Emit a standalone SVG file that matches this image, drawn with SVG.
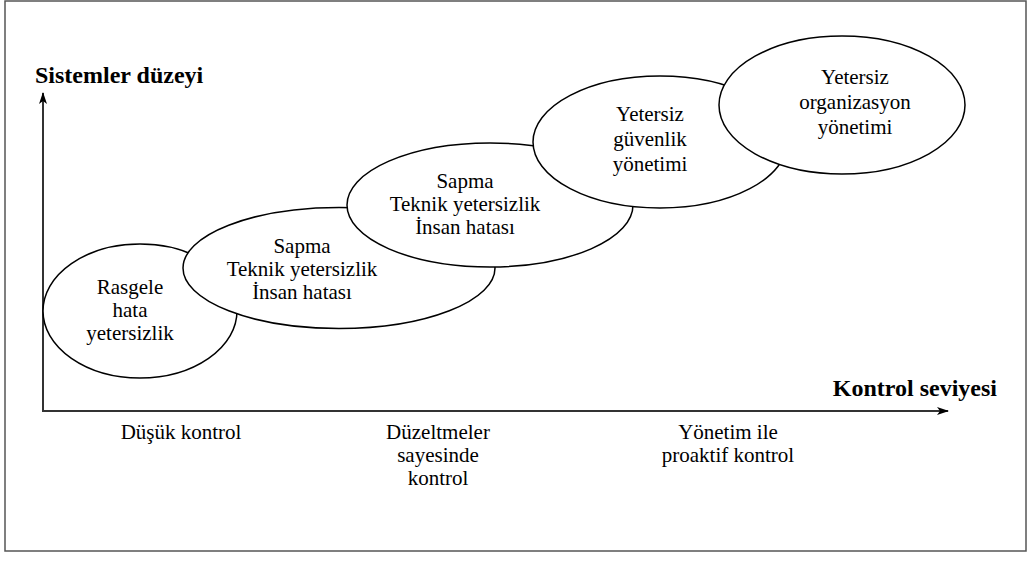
<svg xmlns="http://www.w3.org/2000/svg" width="1032" height="565" viewBox="0 0 1032 565">
  <style>
    .frame { fill: #ffffff; stroke: #555555; stroke-width: 1.5; }
    .blob { fill: #ffffff; stroke: #000000; stroke-width: 1.5; }
    .axis { fill: none; stroke: #333333; stroke-width: 2; }
    text { font-family: 'Liberation Serif', 'DejaVu Serif', 'Noto Serif', serif; fill: #000000; }
    .lbl { font-size: 21px; text-anchor: middle; }
    .tick { font-size: 21px; text-anchor: middle; }
    .title { font-size: 24px; font-weight: bold; }
  </style>
  <defs>
    <marker id="arrow" markerWidth="12" markerHeight="8" refX="11" refY="4" orient="auto" markerUnits="userSpaceOnUse">
      <path d="M0,0 L12,4 L0,8 L3,4 Z" fill="#000000"/>
    </marker>
  </defs>

  <rect class="frame" x="5" y="1" width="1021" height="550"/>

  <!-- axes -->
  <g id="connectors">
    <line class="axis" x1="43" y1="411" x2="43" y2="93" marker-end="url(#arrow)"/>
    <line class="axis" x1="42" y1="411" x2="948" y2="411" marker-end="url(#arrow)"/>
  </g>

  <text class="title" x="35" y="83">Sistemler düzeyi</text>
  <text class="title" x="997" y="396" text-anchor="end">Kontrol seviyesi</text>

  <!-- stages, later ones drawn over earlier ones -->
  <g id="stage1">
    <ellipse class="blob" cx="140" cy="311" rx="97" ry="67"/>
    <text class="lbl" x="130" y="294">Rasgele</text>
    <text class="lbl" x="130" y="317">hata</text>
    <text class="lbl" x="130" y="340">yetersizlik</text>
  </g>
  <g id="stage2">
    <ellipse class="blob" cx="339" cy="268" rx="156" ry="60.5"/>
    <text class="lbl" x="302" y="253">Sapma</text>
    <text class="lbl" x="302" y="276">Teknik yetersizlik</text>
    <text class="lbl" x="302" y="299">İnsan hatası</text>
  </g>
  <g id="stage3">
    <ellipse class="blob" cx="490" cy="205" rx="143" ry="62"/>
    <text class="lbl" x="465" y="188">Sapma</text>
    <text class="lbl" x="465" y="211">Teknik yetersizlik</text>
    <text class="lbl" x="465" y="234">İnsan hatası</text>
  </g>
  <g id="stage4">
    <ellipse class="blob" cx="660" cy="142" rx="127" ry="66"/>
    <text class="lbl" x="650" y="121">Yetersiz</text>
    <text class="lbl" x="650" y="146">güvenlik</text>
    <text class="lbl" x="650" y="171">yönetimi</text>
  </g>
  <g id="stage5">
    <ellipse class="blob" cx="842" cy="105" rx="123" ry="69"/>
    <text class="lbl" x="855" y="84">Yetersiz</text>
    <text class="lbl" x="855" y="109">organizasyon</text>
    <text class="lbl" x="855" y="134">yönetimi</text>
  </g>

  <!-- control levels along the horizontal axis -->
  <g id="levels">
    <text class="tick" x="181" y="439">Düşük kontrol</text>
    <text class="tick" x="438" y="439">Düzeltmeler</text>
    <text class="tick" x="438" y="462">sayesinde</text>
    <text class="tick" x="438" y="485">kontrol</text>
    <text class="tick" x="728" y="439">Yönetim ile</text>
    <text class="tick" x="728" y="462">proaktif kontrol</text>
  </g>
</svg>
